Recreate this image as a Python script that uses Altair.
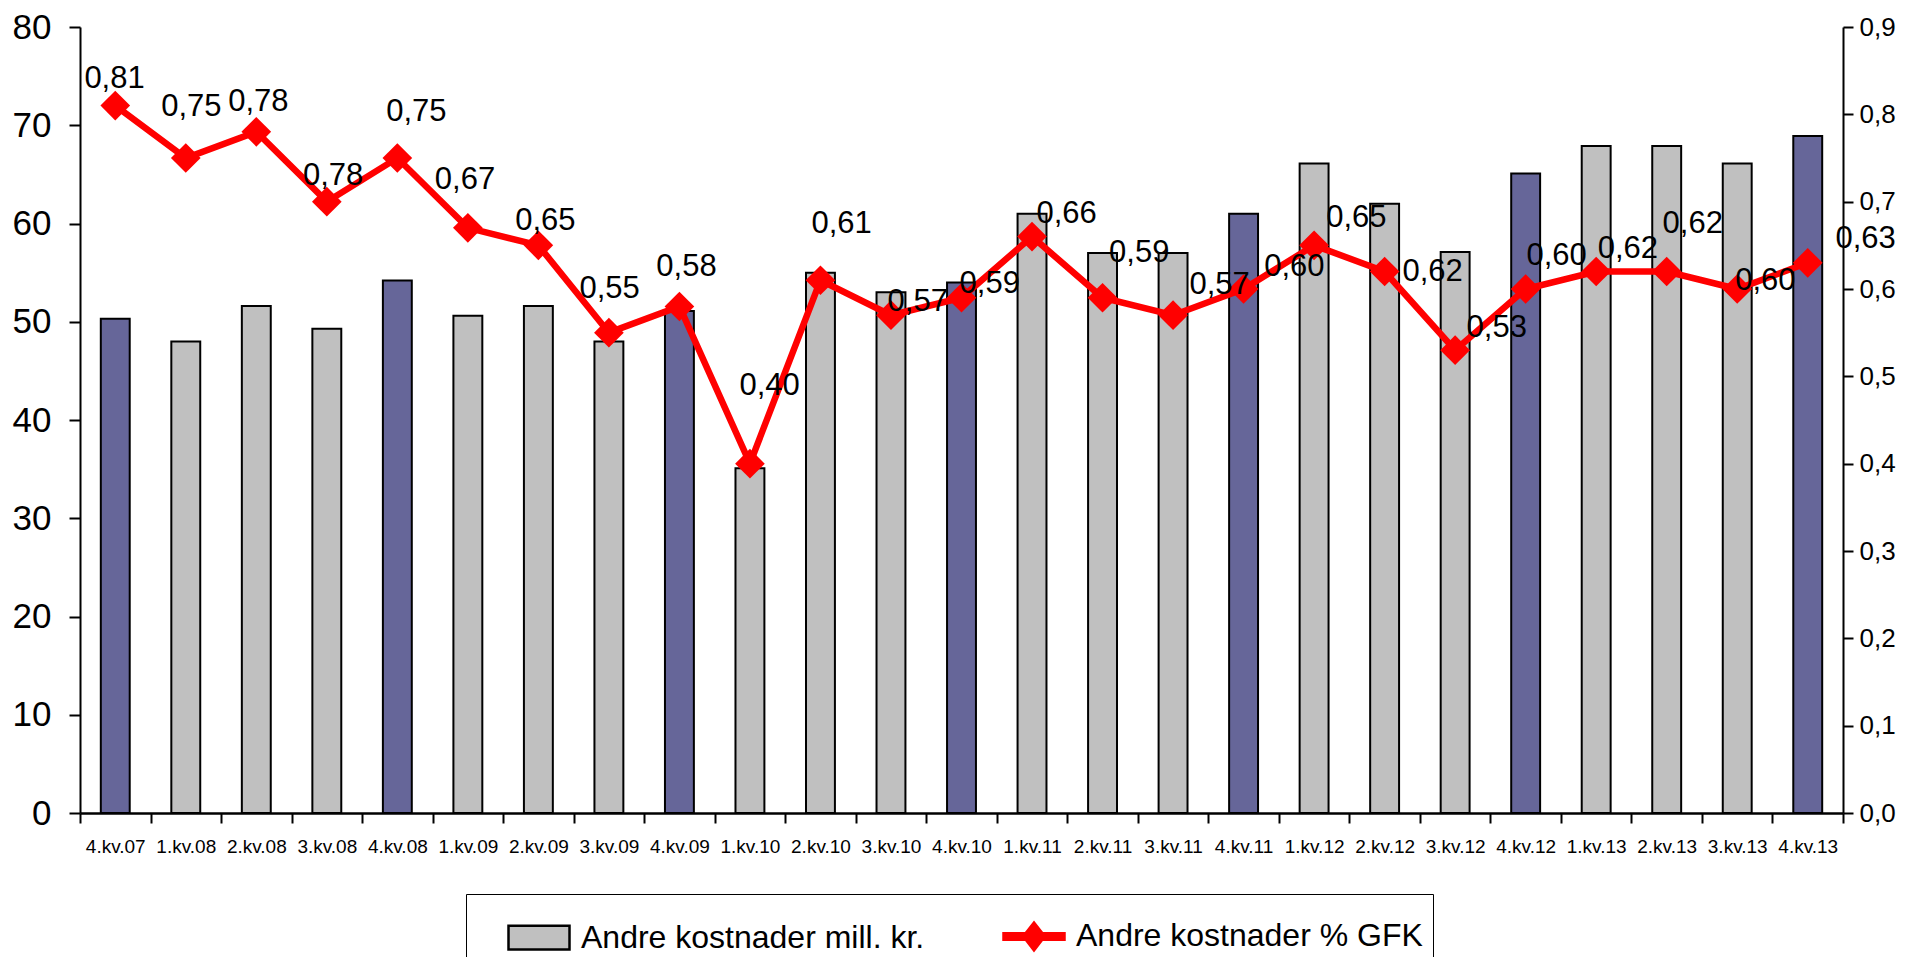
import altair as alt
import pandas as pd

# ---------------- data ----------------
quarters = ["4.kv.07", "1.kv.08", "2.kv.08", "3.kv.08", "4.kv.08", "1.kv.09", "2.kv.09",
            "3.kv.09", "4.kv.09", "1.kv.10", "2.kv.10", "3.kv.10", "4.kv.10", "1.kv.11",
            "2.kv.11", "3.kv.11", "4.kv.11", "1.kv.12", "2.kv.12", "3.kv.12", "4.kv.12",
            "1.kv.13", "2.kv.13", "3.kv.13", "4.kv.13"]
cost_mill = [50.3, 48.0, 51.6, 49.3, 54.2, 50.6, 51.6, 48.0, 51.1, 35.1, 55.0, 53.0, 54.0,
             61.0, 57.0, 57.0, 61.0, 66.1, 62.0, 57.1, 65.1, 67.9, 67.9, 66.1, 68.9]
cost_pct = [0.81, 0.75, 0.78, 0.70, 0.75, 0.67, 0.65, 0.55, 0.58, 0.40, 0.61, 0.57, 0.59,
            0.66, 0.59, 0.57, 0.60, 0.65, 0.62, 0.53, 0.60, 0.62, 0.62, 0.60, 0.63]
pct_labels = ["0,81", "0,75", "0,78", "0,78", "0,75", "0,67", "0,65", "0,55", "0,58", "0,40",
              "0,61", "0,57", "0,59", "0,66", "0,59", "0,57", "0,60", "0,65", "0,62", "0,53",
              "0,60", "0,62", "0,62", "0,60", "0,63"]
# where each data label sits (right-axis units) and its shift inside the category band
label_y = [0.840, 0.808, 0.814, 0.729, 0.803, 0.725, 0.678, 0.600, 0.625, 0.489, 0.675,
           0.585, 0.606, 0.686, 0.641, 0.605, 0.625, 0.681, 0.619, 0.555, 0.638, 0.646,
           0.675, 0.609, 0.657]
label_shift = [0.49, 0.58, 0.53, 0.59, 0.77, 0.46, 0.60, 0.51, 0.60, 0.78, 0.80, 0.88, 0.90,
               0.99, 1.02, 1.16, 1.22, 1.10, 1.18, 1.09, 0.94, 0.95, 0.87, 0.90, 1.32]
left_ticks = [0, 10, 20, 30, 40, 50, 60, 70, 80]
right_ticks = [0.0, 0.1, 0.2, 0.3, 0.4, 0.5, 0.6, 0.7, 0.8, 0.9]
legend_names = ["Andre kostnader mill. kr.", "Andre kostnader % GFK"]

FONT = "Liberation Sans, Arial, sans-serif"
GREY = "#C0C0C0"
Q4 = "#666699"
RED = "#FF0000"

df = pd.DataFrame({
    "q": quarters,
    "mill": cost_mill,
    "pct": cost_pct,
    "lab": pct_labels,
    "laby": label_y,
    "labx": [i + s for i, s in enumerate(label_shift)],
})
df["kind"] = ["q4" if q.startswith("4.") else "other" for q in quarters]


def band():
    return alt.Scale(domain=quarters, paddingInner=0, paddingOuter=0)


bars = alt.Chart(df).mark_bar(
    width={"band": 0.41}, stroke="black", strokeWidth=2
).encode(
    x=alt.X("q:N", scale=band(), title=None,
            axis=alt.Axis(labelAngle=0, tickBand="extent", labelFontSize=19,
                          labelPadding=14, tickSize=10, tickWidth=2, domainWidth=2.5,
                          labelFont=FONT)),
    y=alt.Y("mill:Q", scale=alt.Scale(domain=[0, 80], nice=False), title=None,
            axis=alt.Axis(values=left_ticks, labelFontSize=35, labelPadding=18,
                          tickSize=11, tickWidth=2, domainWidth=2, labelFont=FONT)),
    fill=alt.condition("datum.kind == 'q4'", alt.value(Q4), alt.value(GREY)),
)

line = alt.Chart(df).mark_line(color=RED, strokeWidth=6.5).encode(
    x=alt.X("q:N", scale=band(), axis=None),
    y=alt.Y("pct:Q", scale=alt.Scale(domain=[0, 0.9], nice=False), title=None,
            axis=alt.Axis(orient="right", values=right_ticks, labelFontSize=26,
                          labelPadding=6, tickSize=10, tickWidth=2, domainWidth=2,
                          labelFont=FONT,
                          labelExpr="replace(format(datum.value, '.1f'), '.', ',')")),
)

points = alt.Chart(df).mark_point(
    shape="diamond", filled=True, size=880, color=RED, opacity=1
).encode(
    x=alt.X("q:N", scale=band(), axis=None),
    y=alt.Y("pct:Q", scale=alt.Scale(domain=[0, 0.9], nice=False), axis=None),
)

labels = alt.Chart(df).mark_text(
    font=FONT, fontSize=31, baseline="middle", align="center", color="black"
).encode(
    x=alt.X("labx:Q", scale=alt.Scale(domain=[0, 25], nice=False, zero=False), axis=None),
    y=alt.Y("laby:Q", scale=alt.Scale(domain=[0, 0.9], nice=False), axis=None),
    text="lab:N",
)

rect_path = "M-1,-0.39H1V0.39H-1Z"
line_path = "M-1,-0.11H-0.27L0,-0.46L0.27,-0.11H1V0.11H0.27L0,0.46L-0.27,0.11H-1Z"

legend_def = alt.Legend(
    title=None, orient="none", direction="horizontal", legendX=386, legendY=867,
    strokeColor="black", fillColor="white", padding=10, symbolOffset=31,
    labelFont=FONT, labelFontSize=32, labelLimit=900, labelOffset=10,
    columnPadding=46, symbolSize=3721, symbolStrokeWidth=2.5,
)
legend_df = pd.DataFrame({"series": legend_names})
legend_layer = alt.Chart(legend_df).mark_point(
    filled=True, size=3721, strokeWidth=2.5, opacity=1
).encode(
    x=alt.value(-3000),
    y=alt.value(-3000),
    shape=alt.Shape("series:N", scale=alt.Scale(domain=legend_names,
                                                range=[rect_path, line_path]),
                    legend=legend_def),
    fill=alt.Fill("series:N", scale=alt.Scale(domain=legend_names, range=[GREY, RED]),
                  legend=legend_def),
    stroke=alt.Stroke("series:N", scale=alt.Scale(domain=legend_names,
                                                  range=["black", RED]),
                      legend=legend_def),
)

chart = alt.layer(bars, line, points, labels, legend_layer).resolve_scale(
    x="independent", y="independent"
).properties(
    width=1763, height=786,
    autosize=alt.AutoSizeParams(type="none"),
    padding={"left": 72, "top": 19, "right": 54, "bottom": 144},
).configure_view(stroke=None).configure_axis(
    domainColor="black", tickColor="black", labelColor="black", grid=False
)

chart.save("out.html", embed_options={"renderer": "svg", "actions": False})
